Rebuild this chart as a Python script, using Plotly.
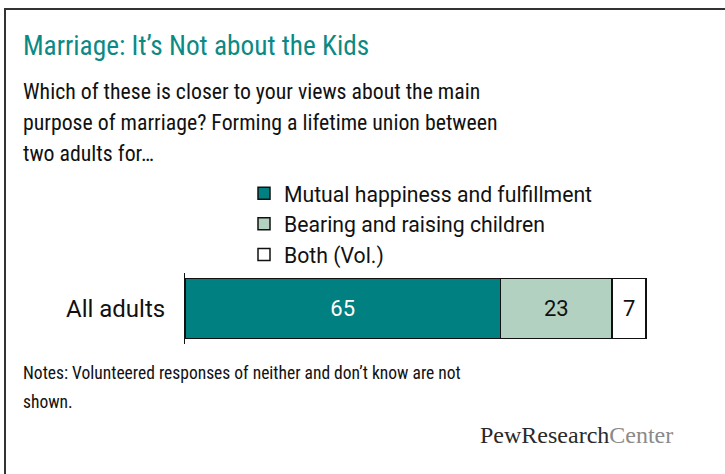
import plotly.graph_objects as go

# ---- data ----
categories = ["All adults"]
series_names = ["Mutual happiness and fulfillment", "Bearing and raising children", "Both (Vol.)"]
mutual = [65]
children = [23]
both = [7]
series_values = [mutual, children, both]

title_text = "Marriage: It\u2019s Not about the Kids"
subtitle_lines = ["Which of these is closer to your views about the main",
                  "purpose of marriage? Forming a lifetime union between",
                  "two adults for\u2026"]
notes_lines = ["Notes: Volunteered responses of neither and don\u2019t know are not",
               "shown."]

# ---- style ----
W, H = 725, 474
L, R, T, B = 185, 725 - 648, 273, 474 - 344
PW, PH = W - L - R, H - T - B
FONT = "Roboto Condensed, Roboto, Liberation Sans, sans-serif"
FONT_REG = "Roboto, Liberation Sans, sans-serif"
colors = ["#008080", "#b3d1c1", "#ffffff"]
text_colors = ["#ffffff", "#111111", "#111111"]


def px(x):
    return (x - L) / PW


def py(y):
    return (H - B - y) / PH


fig = go.Figure()
for i, (name, vals, c, tc) in enumerate(zip(series_names, series_values, colors, text_colors)):
    fig.add_trace(go.Bar(
        y=categories, x=vals, name=name, orientation="h", legendgroup=f"g{i}",
        marker=dict(color=c, line=dict(color="#111111", width=1.5)),
        text=[str(v) for v in vals], textposition="inside",
        insidetextanchor="middle", textangle=0, constraintext="none",
        textfont=dict(color=tc, size=22, family=FONT_REG),
        hoverinfo="skip",
    ))

fig.update_layout(
    width=W, height=H,
    margin=dict(l=L, r=R, t=T, b=B, pad=0),
    paper_bgcolor="white", plot_bgcolor="white",
    barmode="stack", bargap=0.155,
    font=dict(family=FONT, color="#111111"),
    xaxis=dict(range=[0, 95.4], visible=False, fixedrange=True),
    yaxis=dict(showline=True, linecolor="#111111", linewidth=1, showgrid=False,
               zeroline=False, ticks="", ticklabelstandoff=14, fixedrange=True,
               tickfont=dict(size=24, family=FONT_REG, color="#111111")),
    legend=dict(x=px(244), y=py(173), xanchor="left", yanchor="top",
                traceorder="normal", font=dict(size=21.2, family=FONT_REG, color="#111111"),
                bgcolor="rgba(0,0,0,0)", itemclick=False, itemdoubleclick=False,
                tracegroupgap=0),
    showlegend=True,
)

annos = [
    dict(text=title_text, x=px(21), y=py(27.5),
         font=dict(size=27.3, color="#0b8a85", family=FONT)),
    dict(text="<span style='color:#2a2a2a'>PewResearch</span><span style='color:#8a8a8a'>Center</span>",
         x=px(478), y=py(420), font=dict(size=24, family="Liberation Serif, DejaVu Serif, serif")),
]
for k, line in enumerate(subtitle_lines):
    annos.append(dict(text=line, x=px(21), y=py(76.5 + 31 * k),
                      font=dict(size=21.8, color="#111111", family=FONT)))
for k, line in enumerate(notes_lines):
    annos.append(dict(text=line, x=px(21), y=py(361 + 29 * k),
                      font=dict(size=17.5, color="#111111", family=FONT)))
for a in annos:
    fig.add_annotation(xref="paper", yref="paper", xanchor="left", yanchor="top",
                       align="left", showarrow=False, **a)

# outer frame (left and top edges)
fig.add_shape(type="path", xref="paper", yref="paper",
              path=f"M {px(5)},{py(474)} L {px(5)},{py(9)} L {px(725)},{py(9)}",
              line=dict(color="#333333", width=2))

fig.write_html("out.html", config={"displayModeBar": False},
               post_script="document.body.style.margin='0';")
